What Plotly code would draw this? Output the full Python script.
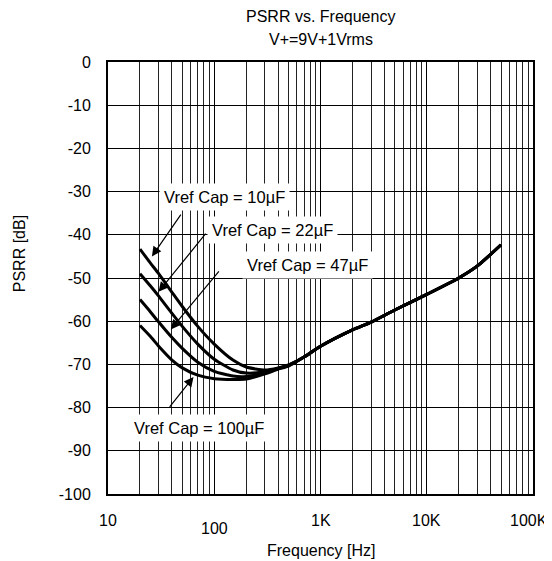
import numpy as np
import plotly.graph_objects as go

# data
freq = [20, 25, 30, 40, 50, 70, 100, 150, 200, 300, 400, 500, 700,
        1000, 2000, 3000, 5000, 10000, 20000, 30000, 50000]

# common tail above ~500 Hz
tail = [-68.3, -65.8, -62.0, -60.2, -57.4, -53.8, -50.0, -47.2, -42.3]

psrr_10uf = [-43.3, -46.5, -49.0, -53.3, -56.6, -61.2, -65.3, -69.0, -70.6,
             -71.3, -70.8, -70.1] + tail
psrr_22uf = [-49.0, -51.8, -54.2, -58.2, -61.2, -65.3, -68.8, -71.3, -72.0,
             -71.7, -70.9, -70.2] + tail
psrr_47uf = [-55.0, -57.8, -60.2, -63.8, -66.3, -69.5, -71.6, -72.7, -72.8,
             -72.0, -71.0, -70.3] + tail
psrr_100uf = [-61.0, -63.5, -65.8, -69.0, -70.8, -72.5, -73.3, -73.5, -73.4,
              -72.2, -71.1, -70.4] + tail

series = [psrr_10uf, psrr_22uf, psrr_47uf, psrr_100uf]

labels = ["Vref Cap = 10µF", "Vref Cap = 22µF", "Vref Cap = 47µF", "Vref Cap = 100µF"]
# (label x, label y, arrow tail x, arrow tail y, arrow tip x, arrow tip y)
callouts = [
    (126, -31.3, 49.6, -35.0, 25.9, -45.0),
    (357, -39.0, 85.2, -39.4, 29.9, -53.2),
    (753, -47.1, 113.6, -48.1, 39.0, -61.9),
    (72, -84.8, 37.1, -80.2, 63.8, -72.9),
]

x_ticks = [10, 100, 1000, 10000, 100000]
x_ticktext = ["10", "100", "1K", "10K", "100K"]
y_ticks = list(range(0, -101, -10))
y_ticktext = [str(v) for v in y_ticks]

font = "Arial, Liberation Sans, sans-serif"

fig = go.Figure()
for s, name in zip(series, labels):
    fig.add_trace(go.Scatter(
        x=freq, y=s, mode="lines", name=name,
        line=dict(color="black", width=3, shape="spline", smoothing=0.6),
        showlegend=False))

# callout labels with white boxes, then arrows
for text, (lx, ly, ax, ay, tx, ty) in zip(labels, callouts):
    fig.add_annotation(x=np.log10(lx), y=ly, text=text, showarrow=False,
                       bgcolor="white", borderpad=4,
                       font=dict(size=16.5, color="black", family=font))
    fig.add_annotation(x=np.log10(tx), y=ty, ax=np.log10(ax), ay=ay,
                       axref="x", ayref="y", text="", showarrow=True,
                       arrowhead=2, arrowsize=1.6, arrowwidth=1.2,
                       arrowcolor="black")

# x tick labels (the "100" sits a little lower, "100K" kept inside the page)
for v, t in zip(x_ticks, x_ticktext):
    fig.add_annotation(x=np.log10(v), y=0, yref="paper", text=t,
                       showarrow=False, yanchor="middle",
                       yshift=-34 if t == "100" else -26,
                       xshift=-4 if t == "100K" else 0,
                       font=dict(size=16, color="black", family=font))

# titles
fig.add_annotation(x=0.5, y=1, xref="paper", yref="paper", text="PSRR vs. Frequency",
                   showarrow=False, yanchor="middle", yshift=46,
                   font=dict(size=16, color="black", family=font))
fig.add_annotation(x=0.5, y=1, xref="paper", yref="paper", text="V+=9V+1Vrms",
                   showarrow=False, yanchor="middle", yshift=23,
                   font=dict(size=16, color="black", family=font))
fig.add_annotation(x=0.5, y=0, xref="paper", yref="paper", text="Frequency [Hz]",
                   showarrow=False, yanchor="middle", yshift=-56,
                   font=dict(size=16, color="black", family=font))
fig.add_annotation(x=0, y=-44.5, xref="paper", text="PSRR [dB]", textangle=-90,
                   showarrow=False, xanchor="center", xshift=-89,
                   font=dict(size=16, color="black", family=font))

fig.update_xaxes(type="log", range=[1, 5], showticklabels=False, automargin=False,
                 showgrid=True, gridcolor="black", gridwidth=1, dtick=1,
                 minor=dict(dtick="D1", showgrid=True, gridcolor="#222", gridwidth=1),
                 showline=True, linecolor="black", linewidth=2, mirror=True,
                 zeroline=False)
fig.update_yaxes(range=[-100, 0], tickvals=y_ticks, ticktext=y_ticktext,
                 automargin=False, showgrid=True, gridcolor="black",
                 gridwidth=1, showline=True, linecolor="black", linewidth=2,
                 mirror=True, zeroline=False, ticklabelstandoff=12,
                 tickfont=dict(size=16, color="black", family=font))

# the page body adds an 8px offset, so the figure is 8px smaller
fig.update_layout(width=544, height=553, plot_bgcolor="white", paper_bgcolor="white",
                  margin=dict(l=100, r=19, t=54, b=67),
                  font=dict(family=font, color="black"))

fig.write_html("out.html")
